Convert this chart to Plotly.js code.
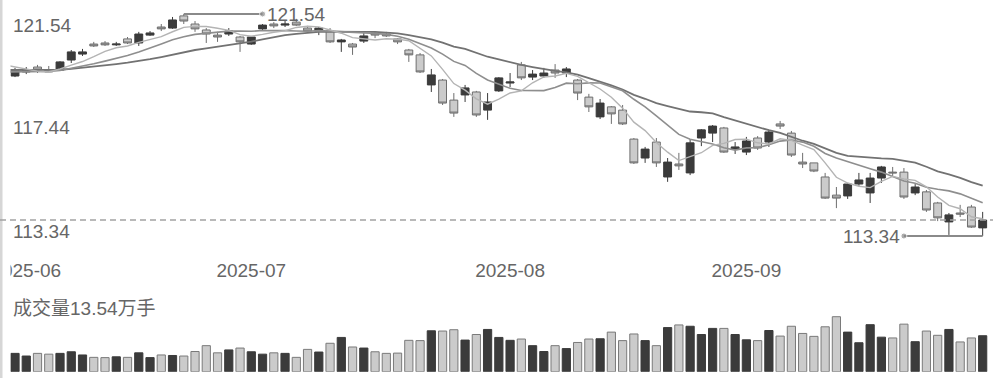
<!DOCTYPE html>
<html><head><meta charset="utf-8">
<script src="https://cdn.plot.ly/plotly-3.0.1.min.js"></script>
<style>html,body{margin:0;padding:0;background:#fff;}#chart{width:993px;height:378px;}</style>
</head><body><div id="chart"></div>
<script>
// ---- data ----
const openP = [119.25,119.40,119.58,119.47,119.47,119.84,120.06,120.43,120.47,120.40,
120.62,120.47,120.76,121.06,121.02,121.47,121.17,120.95,120.76,120.80,
120.69,120.43,120.99,121.17,121.13,121.24,121.02,120.91,120.91,120.51,
120.43,120.54,120.84,120.80,120.62,120.21,120.03,118.92,119.10,118.36,
118.55,118.66,117.99,118.70,118.99,119.66,119.21,119.25,119.47,119.36,
119.10,118.47,117.74,118.11,117.99,116.92,116.22,116.81,115.52,116.00,
115.67,116.96,117.14,117.33,116.55,116.44,116.96,116.81,117.48,117.14,
116.07,116.04,115.52,114.85,114.82,115.26,114.93,115.48,115.70,115.70,
114.93,114.97,114.56,113.86,114.19,114.41,113.64];
const highP = [119.55,119.58,119.66,119.62,119.80,120.21,120.25,120.51,120.54,120.51,
120.69,120.88,120.91,121.17,121.43,121.54,121.28,121.02,120.88,121.02,
120.73,120.73,121.17,121.24,121.28,121.36,121.10,121.06,121.02,120.62,
120.47,120.84,120.88,120.88,120.65,120.25,120.10,119.51,119.14,118.62,
118.92,118.70,118.62,119.21,119.36,119.77,119.47,119.55,119.69,119.58,
119.14,118.59,118.40,118.14,118.18,116.96,116.63,116.96,116.22,116.41,
116.92,117.29,117.44,117.37,116.81,117.00,117.03,117.26,117.59,117.22,
116.41,116.04,115.67,115.15,115.30,115.67,115.67,115.93,115.89,115.85,
115.26,115.04,114.60,114.19,114.49,114.49,114.23];
const lowP = [119.21,119.32,119.36,119.40,119.47,119.73,119.99,120.32,120.36,120.36,
120.43,120.36,120.73,120.91,120.99,121.17,120.88,120.47,120.51,120.73,
120.14,120.40,120.95,121.02,121.06,121.10,120.88,120.76,120.47,120.14,
120.03,120.47,120.65,120.69,120.43,119.77,119.36,118.66,118.18,117.74,
118.29,117.74,117.63,118.66,118.84,119.10,119.10,119.18,119.18,119.21,
118.36,117.92,117.66,117.48,117.44,116.00,116.04,115.89,115.34,115.78,
115.59,116.66,116.81,116.41,116.37,116.33,116.52,116.63,117.29,116.26,
115.85,115.70,114.71,114.37,114.71,115.19,114.56,115.30,115.52,114.71,
114.85,114.23,113.89,113.38,114.04,113.64,113.34];
const closeP = [119.43,119.47,119.47,119.40,119.77,120.14,120.14,120.36,120.40,120.43,
120.47,120.80,120.84,120.99,121.32,121.28,120.99,120.80,120.69,120.91,
120.51,120.69,121.13,121.10,121.17,121.13,120.91,121.02,120.51,120.58,
120.32,120.73,120.76,120.73,120.51,120.03,119.40,119.29,118.25,117.88,
118.81,117.81,118.29,119.18,119.03,119.18,119.32,119.36,119.36,119.51,
118.62,118.11,118.25,117.85,117.48,116.04,116.55,116.04,116.07,115.93,
116.78,117.26,117.40,116.44,116.63,116.85,116.59,117.18,117.40,116.33,
116.00,115.74,114.74,114.74,115.26,115.41,115.48,115.89,115.67,114.78,
115.15,114.30,114.01,114.12,114.15,113.67,113.93];
// volume, 万手
const volume = [6.9,5.9,6.9,6.6,6.9,7.5,6.3,5.4,5.3,5.6,
5.4,7.1,5.3,6.3,6.1,5.9,7.6,9.8,7.1,8.2,
8.9,7.5,6.6,7.1,6.9,5.4,8.4,7.4,10.7,12.9,
9.3,8.9,7.5,6.9,7.0,11.8,11.7,15.4,15.3,15.8,
11.9,14.0,15.9,12.9,11.8,12.3,9.8,7.6,9.8,8.7,
11.0,12.3,12.4,14.9,11.7,14.2,11.7,9.8,16.6,17.6,
17.1,14.0,16.3,16.3,14.0,12.0,11.7,15.5,13.4,17.1,
14.4,13.3,16.9,20.7,14.9,10.9,17.7,13.0,12.7,17.9,
11.3,15.3,13.7,15.9,11.2,12.7,13.54];
// moving-average values before the window is full (from the day before the first candle)
const ma5Lead  = [119.66,119.58,119.49,119.43,119.40];
const ma10Lead = [119.40,119.40,119.41,119.42,119.42,119.45,119.53,119.60,119.70,119.80];
const ma20Lead = [119.47,119.47,119.47,119.47,119.47,119.48,119.51,119.55,119.59,119.64,
119.69,119.74,119.80,119.87,119.95,120.04,120.13,120.21,120.27,120.33];
const monthLabels = ['2025-06','2025-07','2025-08','2025-09'];
const monthStart = [1,21,44,65];

// ---- build ----
const n = closeP.length;
const idx = closeP.map((_, i) => i);
function movingAvg(win, lead) {
  const out = lead.slice();
  for (let i = win - 1; i < n; i++) {
    let s = 0;
    for (let j = i - win + 1; j <= i; j++) s += closeP[j];
    out.push(s / win);
  }
  return out;
}
const maX = [-1].concat(idx);
const up = closeP.map((c, i) => c >= openP[i]);
const DARK = '#3b3b3b', LIGHTF = '#cbcbcb', LIGHTL = '#6e6e6e';

const hi = Math.max(...highP), lo = Math.min(...lowP);
const maxIdx = highP.indexOf(hi), minIdx = lowP.indexOf(lo);
const lastClose = closeP[n - 1];

// pixel geometry
const W = 993, H = 378;
const step = 11.252, firstPx = 15, leftClip = 10.5;
const r0 = -(firstPx - leftClip) / step;
const r1 = r0 + (W - leftClip) / step;
const pxPerUnit = 222 / (hi - lo);
const yTop = hi + 14 / pxPerUnit, yBot = lo - 14 / pxPerUnit;

const traces = [
  {type: 'candlestick', x: idx, open: openP, high: highP, low: lowP, close: closeP,
   xaxis: 'x', yaxis: 'y', whiskerwidth: 0,
   increasing: {line: {color: DARK, width: 1}, fillcolor: DARK},
   decreasing: {line: {color: LIGHTL, width: 1}, fillcolor: LIGHTF},
   hoverinfo: 'skip'},
  {type: 'scatter', mode: 'lines', x: maX, y: movingAvg(20, ma20Lead), line: {color: '#727272', width: 1.8}, xaxis: 'x', yaxis: 'y', hoverinfo: 'skip'},
  {type: 'scatter', mode: 'lines', x: maX, y: movingAvg(10, ma10Lead), line: {color: '#8e8e8e', width: 1.6}, xaxis: 'x', yaxis: 'y', hoverinfo: 'skip'},
  {type: 'scatter', mode: 'lines', x: maX, y: movingAvg(5, ma5Lead), line: {color: '#b4b4b4', width: 1.4}, xaxis: 'x', yaxis: 'y', hoverinfo: 'skip'},
  {type: 'scatter', mode: 'lines+markers',
   x: [maxIdx, maxIdx + 7, null, minIdx, minIdx - 7],
   y: [hi, hi, null, lo, lo],
   line: {color: '#8a8a8a', width: 2},
   marker: {color: '#8a8a8a', size: [0, 6, 0, 0, 6]},
   xaxis: 'x', yaxis: 'y', cliponaxis: false, hoverinfo: 'skip'},
  {type: 'scatter', mode: 'text', x: monthStart, y: monthStart.map(() => 0.5), text: monthLabels,
   textposition: 'middle center', textfont: {size: 19, color: '#666'},
   xaxis: 'x', yaxis: 'y3', cliponaxis: true, hoverinfo: 'skip'},
  {type: 'bar', x: idx, y: volume, xaxis: 'x', yaxis: 'y2',
   marker: {color: up.map(u => u ? DARK : LIGHTF),
            line: {color: up.map(u => u ? DARK : '#7a7a7a'), width: 1}},
   hoverinfo: 'skip'}
];

const fam = '"Liberation Sans", Arial, "Noto Sans CJK SC", sans-serif';
const lab = {font: {size: 19, color: '#666', family: fam}, showarrow: false};
const layout = {
  width: W, height: H, margin: {l: 0, r: 0, t: 0, b: 0},
  paper_bgcolor: '#fff', plot_bgcolor: 'rgba(0,0,0,0)',
  showlegend: false, hovermode: false,
  font: {family: fam, color: '#666'},
  boxgap: 0.3, boxgroupgap: 0, bargap: 0.27,
  xaxis: {domain: [leftClip / W, 1], range: [r0, r1], visible: false, rangeslider: {visible: false}, fixedrange: true},
  yaxis: {domain: [1 - 250 / H, 1], range: [yBot, yTop], visible: false, anchor: 'x', fixedrange: true},
  yaxis3: {domain: [1 - 290 / H, 1 - 254 / H], range: [0, 1], visible: false, anchor: 'x', fixedrange: true},
  yaxis2: {domain: [(H - 371.7) / H, (H - 371.7 + 21 * 2.657) / H], range: [0, 21], visible: false, anchor: 'x', fixedrange: true},
  shapes: [
    {type: 'rect', xref: 'paper', yref: 'paper', x0: 0, x1: 2.5 / W, y0: 0, y1: 1, fillcolor: '#d6d6d6', line: {width: 0}},
    {type: 'line', xref: 'paper', yref: 'y', x0: 0, x1: 1, y0: lastClose, y1: lastClose,
     line: {color: '#a2a2a2', width: 1.5, dash: '6px,4px'}}
  ],
  annotations: [
    Object.assign({xref: 'paper', yref: 'y', x: 11 / W, y: hi, xanchor: 'left', yanchor: 'middle', yshift: -11, text: hi.toFixed(2)}, lab),
    Object.assign({xref: 'paper', yref: 'y', x: 11 / W, y: (hi + lo) / 2, xanchor: 'left', yanchor: 'middle', yshift: -2, text: ((hi + lo) / 2).toFixed(2)}, lab),
    Object.assign({xref: 'paper', yref: 'y', x: 11 / W, y: lo, xanchor: 'left', yanchor: 'middle', yshift: 5, text: lo.toFixed(2)}, lab),
    Object.assign({xref: 'x', yref: 'y', x: maxIdx + 7, y: hi, xanchor: 'left', yanchor: 'middle', xshift: 2, text: hi.toFixed(2)}, lab),
    Object.assign({xref: 'x', yref: 'y', x: minIdx - 7, y: lo, xanchor: 'right', yanchor: 'middle', xshift: -2, text: lo.toFixed(2)}, lab),
    Object.assign({xref: 'paper', yref: 'paper', x: 11 / W, y: (H - 308) / H, xanchor: 'left', yanchor: 'middle',
      text: '成交量' + volume[n - 1].toFixed(2) + '万手'}, lab)
  ]
};
Plotly.newPlot('chart', traces, layout, {staticPlot: true, displayModeBar: false});
</script></body></html>
